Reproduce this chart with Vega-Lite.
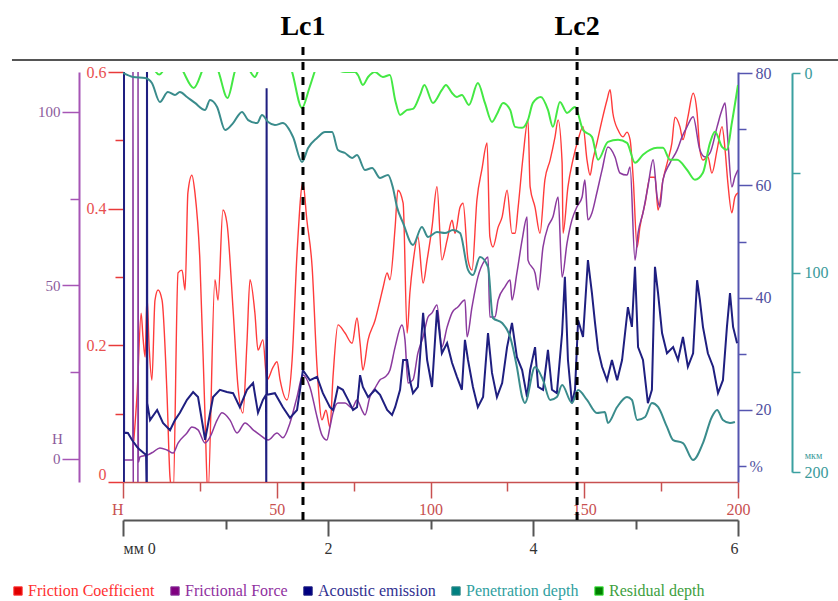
{
  "$schema": "https://vega.github.io/schema/vega-lite/v6.json",
  "autosize": {"type": "none"},
  "width": 615,
  "height": 410,
  "padding": {"left": 123, "top": 72, "right": 100, "bottom": 119},
  "background": "white",
  "config": {
    "view": {"stroke": null},
    "axis": {"grid": false, "labelFont": "Liberation Serif", "titleFont": "Liberation Serif", "labelFontSize": 16, "titleFontWeight": "normal"},
    "legend": {"labelFont": "Liberation Serif"}
  },
  "datasets": {
    "cof": [
      {"h":3.5,"v":0.06},{"h":4.6,"v":0.13},{"h":5.9,"v":0.247},{"h":6.5,"v":0.212},{"h":7.2,"v":0.183},{"h":7.8,"v":0.271},{"h":8.5,"v":0.198},{"h":9.4,"v":0.149},{"h":10.4,"v":0.266},{"h":11.4,"v":0.281},{"h":12.7,"v":0.266},{"h":14.3,"v":0.13},{"h":15.3,"v":0.006},{"h":16.3,"v":-0.02},{"h":17.9,"v":0.306},{"h":19.2,"v":0.31},{"h":20.2,"v":0.281},{"h":21.1,"v":0.423},{"h":22.4,"v":0.449},{"h":23.4,"v":0.423},{"h":25.0,"v":0.325},{"h":26.7,"v":0.091},{"h":27.6,"v":-0.02},{"h":29.9,"v":0.296},{"h":30.9,"v":0.266},{"h":32.5,"v":0.398},{"h":33.8,"v":0.379},{"h":35.8,"v":0.252},{"h":37.4,"v":0.139},{"h":39.0,"v":0.101},{"h":40.3,"v":0.203},{"h":41.3,"v":0.296},{"h":42.9,"v":0.247},{"h":43.9,"v":0.193},{"h":45.5,"v":0.208},{"h":46.8,"v":0.149},{"h":48.8,"v":0.168},{"h":50.1,"v":0.176},{"h":51.1,"v":0.149},{"h":53.3,"v":0.12},{"h":55.0,"v":0.179},{"h":56.6,"v":0.335},{"h":58.5,"v":0.438},{"h":59.8,"v":0.383},{"h":61.5,"v":0.315},{"h":63.1,"v":0.168},{"h":64.7,"v":0.091},{"h":66.0,"v":0.105},{"h":67.3,"v":0.08},{"h":68.3,"v":0.154},{"h":69.9,"v":0.23},{"h":72.2,"v":0.218},{"h":74.5,"v":0.203},{"h":76.1,"v":0.24},{"h":77.1,"v":0.203},{"h":78.0,"v":0.164},{"h":79.7,"v":0.208},{"h":82.0,"v":0.237},{"h":83.6,"v":0.266},{"h":84.6,"v":0.285},{"h":85.9,"v":0.306},{"h":86.8,"v":0.296},{"h":88.5,"v":0.373},{"h":89.4,"v":0.427},{"h":91.1,"v":0.408},{"h":92.4,"v":0.218},{"h":93.3,"v":0.277},{"h":94.3,"v":0.32},{"h":95.9,"v":0.359},{"h":97.6,"v":0.291},{"h":98.9,"v":0.325},{"h":100.5,"v":0.373},{"h":102.1,"v":0.432},{"h":103.7,"v":0.325},{"h":105.4,"v":0.354},{"h":107.0,"v":0.383},{"h":108.0,"v":0.364},{"h":109.6,"v":0.402},{"h":110.6,"v":0.408},{"h":112.2,"v":0.325},{"h":113.5,"v":0.31},{"h":115.1,"v":0.413},{"h":116.7,"v":0.457},{"h":118.4,"v":0.496},{"h":119.3,"v":0.359},{"h":120.3,"v":0.344},{"h":122.0,"v":0.373},{"h":123.3,"v":0.388},{"h":124.9,"v":0.427},{"h":126.5,"v":0.364},{"h":127.5,"v":0.364},{"h":128.5,"v":0.402},{"h":130.1,"v":0.476},{"h":131.7,"v":0.53},{"h":132.4,"v":0.432},{"h":134.0,"v":0.402},{"h":135.6,"v":0.364},{"h":137.2,"v":0.442},{"h":138.9,"v":0.471},{"h":140.5,"v":0.505},{"h":141.5,"v":0.53},{"h":142.8,"v":0.467},{"h":143.1,"v":0.364},{"h":144.7,"v":0.432},{"h":146.3,"v":0.471},{"h":148.0,"v":0.501},{"h":149.6,"v":0.52},{"h":150.9,"v":0.471},{"h":151.9,"v":0.449},{"h":152.8,"v":0.471},{"h":154.1,"v":0.496},{"h":155.8,"v":0.53},{"h":157.4,"v":0.559},{"h":158.4,"v":0.574},{"h":159.3,"v":0.54},{"h":161.0,"v":0.515},{"h":162.6,"v":0.505},{"h":163.9,"v":0.512},{"h":164.9,"v":0.501},{"h":165.9,"v":0.446},{"h":167.2,"v":0.344},{"h":168.1,"v":0.373},{"h":169.8,"v":0.408},{"h":171.4,"v":0.446},{"h":173.0,"v":0.446},{"h":174.0,"v":0.398},{"h":175.6,"v":0.442},{"h":177.2,"v":0.471},{"h":178.5,"v":0.496},{"h":179.5,"v":0.534},{"h":181.1,"v":0.52},{"h":182.1,"v":0.501},{"h":183.7,"v":0.534},{"h":185.4,"v":0.569},{"h":186.7,"v":0.54},{"h":187.6,"v":0.486},{"h":188.6,"v":0.471},{"h":190.2,"v":0.476},{"h":191.5,"v":0.452},{"h":193.2,"v":0.486},{"h":194.8,"v":0.52},{"h":195.8,"v":0.486},{"h":196.7,"v":0.438},{"h":198.0,"v":0.394},{"h":199.0,"v":0.417},{"h":200,"v":0.423}
    ],
    "force": [
      {"h":0,"v":-0.3},{"h":3.2,"v":-0.3},{"h":3.25,"v":125},{"h":3.35,"v":-10},{"h":4.85,"v":-10},{"h":4.9,"v":125},{"h":5.0,"v":-1},{"h":5.5,"v":0.6},{"h":8.1,"v":1.2},{"h":9.8,"v":2.0},{"h":12.0,"v":3.2},{"h":14.3,"v":2.6},{"h":16.3,"v":1.7},{"h":17.9,"v":4.6},{"h":20.8,"v":7.5},{"h":22.4,"v":9.2},{"h":24.4,"v":8.4},{"h":26.7,"v":4.6},{"h":28.3,"v":6.3},{"h":30.6,"v":11.2},{"h":32.2,"v":13.3},{"h":34.8,"v":11.2},{"h":37.1,"v":7.5},{"h":39.7,"v":10.4},{"h":42.3,"v":8.4},{"h":44.6,"v":6.9},{"h":47.2,"v":5.5},{"h":50.1,"v":7.5},{"h":52.0,"v":6.1},{"h":54.3,"v":10.4},{"h":56.6,"v":17.9},{"h":58.5,"v":24.2},{"h":60.8,"v":20.7},{"h":63.1,"v":12.1},{"h":64.7,"v":6.9},{"h":66.3,"v":5.5},{"h":67.3,"v":9.2},{"h":68.3,"v":13.3},{"h":69.9,"v":16.1},{"h":72.2,"v":16.1},{"h":74.5,"v":14.7},{"h":76.1,"v":17.0},{"h":77.7,"v":14.1},{"h":78.7,"v":12.7},{"h":80.3,"v":17.9},{"h":82.0,"v":20.5},{"h":83.6,"v":22.8},{"h":85.2,"v":23.6},{"h":86.8,"v":25.6},{"h":88.5,"v":32.3},{"h":90.7,"v":38.6},{"h":91.7,"v":34.3},{"h":92.7,"v":21.9},{"h":94.3,"v":22.8},{"h":95.9,"v":30.5},{"h":97.6,"v":35.2},{"h":99.2,"v":40.9},{"h":100.5,"v":42.1},{"h":102.1,"v":44.4},{"h":103.7,"v":32.3},{"h":105.4,"v":38.0},{"h":107.0,"v":42.1},{"h":108.9,"v":43.8},{"h":111.2,"v":45.8},{"h":111.9,"v":35.2},{"h":113.5,"v":43.8},{"h":115.4,"v":52.4},{"h":117.7,"v":57.3},{"h":118.7,"v":58.2},{"h":119.3,"v":40.9},{"h":121.0,"v":40.9},{"h":122.0,"v":45.8},{"h":124.2,"v":49.6},{"h":125.9,"v":51.6},{"h":126.5,"v":45.8},{"h":128.1,"v":53.6},{"h":129.8,"v":63.1},{"h":131.4,"v":69.7},{"h":131.7,"v":57.3},{"h":134.0,"v":53.6},{"h":135.0,"v":48.7},{"h":136.6,"v":61.1},{"h":138.2,"v":66.9},{"h":139.8,"v":69.7},{"h":141.5,"v":75.5},{"h":142.8,"v":52.4},{"h":144.4,"v":62.2},{"h":146.0,"v":68.9},{"h":147.6,"v":72.6},{"h":149.3,"v":75.5},{"h":150.2,"v":80.4},{"h":151.2,"v":68.9},{"h":152.5,"v":70.9},{"h":154.1,"v":76.7},{"h":155.8,"v":83.3},{"h":157.7,"v":89.9},{"h":160.0,"v":87.0},{"h":161.6,"v":82.4},{"h":163.9,"v":81.8},{"h":164.9,"v":84.1},{"h":166.5,"v":57.3},{"h":167.5,"v":65.1},{"h":169.1,"v":70.9},{"h":170.7,"v":78.4},{"h":172.4,"v":86.2},{"h":173.7,"v":75.5},{"h":174.6,"v":72.6},{"h":175.6,"v":80.4},{"h":177.9,"v":85.3},{"h":180.2,"v":89.0},{"h":181.8,"v":92.8},{"h":183.4,"v":95.7},{"h":185.4,"v":98.6},{"h":187.6,"v":89.0},{"h":189.3,"v":87.0},{"h":190.9,"v":88.2},{"h":193.2,"v":95.7},{"h":194.8,"v":100.6},{"h":195.8,"v":102.6},{"h":196.7,"v":91.9},{"h":198.0,"v":78.4},{"h":199.0,"v":81.3},{"h":200,"v":83.3}
    ],
    "ae": [
      {"h":0,"v":3},{"h":0.3,"v":3},{"h":0.32,"v":90},{"h":0.36,"v":16},{"h":1.6,"v":15.9},{"h":2.9,"v":14.7},{"h":4.6,"v":13.4},{"h":5.5,"v":12.9},{"h":7.5,"v":12.0},{"h":7.75,"v":3},{"h":7.8,"v":90},{"h":7.9,"v":21.2},{"h":8.8,"v":18.2},{"h":11.1,"v":20.0},{"h":13.0,"v":17.7},{"h":15.3,"v":16.4},{"h":16.9,"v":18.2},{"h":18.5,"v":19.5},{"h":20.8,"v":21.8},{"h":22.8,"v":23.2},{"h":24.4,"v":22.3},{"h":26.7,"v":14.7},{"h":29.3,"v":22.3},{"h":31.5,"v":23.6},{"h":33.8,"v":23.2},{"h":35.8,"v":23.0},{"h":38.0,"v":20.5},{"h":40.3,"v":23.6},{"h":42.3,"v":24.8},{"h":43.9,"v":19.5},{"h":45.5,"v":21.8},{"h":46.5,"v":22.7},{"h":46.6,"v":3},{"h":46.7,"v":77.3},{"h":46.85,"v":22.7},{"h":49.4,"v":23.0},{"h":52.0,"v":20.5},{"h":54.3,"v":18.6},{"h":56.6,"v":20.0},{"h":58.5,"v":27.1},{"h":60.8,"v":25.3},{"h":63.1,"v":25.9},{"h":65.0,"v":23.0},{"h":67.3,"v":20.5},{"h":68.3,"v":20.0},{"h":69.9,"v":24.1},{"h":71.5,"v":23.6},{"h":73.2,"v":21.8},{"h":74.8,"v":20.0},{"h":76.1,"v":20.5},{"h":77.1,"v":26.2},{"h":78.0,"v":24.1},{"h":79.7,"v":22.3},{"h":82.0,"v":23.6},{"h":83.6,"v":22.7},{"h":85.9,"v":20.0},{"h":87.5,"v":19.1},{"h":88.5,"v":20.5},{"h":90.1,"v":23.6},{"h":91.1,"v":28.9},{"h":92.4,"v":28.9},{"h":93.3,"v":25.3},{"h":94.3,"v":23.0},{"h":95.9,"v":24.1},{"h":97.6,"v":37.3},{"h":98.9,"v":28.9},{"h":100.5,"v":24.1},{"h":102.1,"v":37.8},{"h":103.7,"v":30.1},{"h":105.4,"v":31.9},{"h":107.0,"v":28.4},{"h":108.6,"v":25.9},{"h":110.2,"v":23.6},{"h":111.2,"v":32.5},{"h":112.2,"v":28.9},{"h":113.8,"v":24.1},{"h":115.4,"v":20.5},{"h":117.1,"v":22.3},{"h":118.7,"v":33.7},{"h":120.0,"v":26.6},{"h":121.6,"v":22.3},{"h":123.3,"v":24.8},{"h":124.9,"v":31.2},{"h":126.5,"v":35.5},{"h":128.1,"v":29.4},{"h":129.8,"v":27.1},{"h":131.4,"v":22.3},{"h":132.4,"v":27.1},{"h":134.0,"v":31.2},{"h":135.0,"v":24.1},{"h":136.6,"v":23.6},{"h":138.2,"v":30.7},{"h":139.5,"v":23.6},{"h":141.1,"v":23.0},{"h":142.8,"v":33.7},{"h":143.7,"v":43.7},{"h":144.7,"v":28.9},{"h":146.0,"v":21.2},{"h":147.0,"v":23.6},{"h":148.0,"v":36.0},{"h":149.6,"v":33.0},{"h":151.2,"v":46.7},{"h":152.5,"v":40.8},{"h":153.5,"v":35.5},{"h":154.5,"v":30.7},{"h":155.8,"v":27.7},{"h":157.4,"v":25.3},{"h":159.0,"v":28.9},{"h":160.7,"v":25.3},{"h":162.3,"v":28.9},{"h":164.2,"v":38.3},{"h":165.5,"v":34.8},{"h":166.5,"v":45.5},{"h":167.5,"v":31.2},{"h":169.1,"v":28.9},{"h":170.7,"v":21.2},{"h":172.0,"v":23.6},{"h":173.0,"v":45.5},{"h":174.0,"v":40.8},{"h":175.3,"v":33.7},{"h":176.9,"v":30.1},{"h":178.9,"v":31.2},{"h":180.5,"v":28.9},{"h":182.1,"v":33.0},{"h":183.7,"v":27.7},{"h":185.4,"v":30.1},{"h":186.7,"v":43.1},{"h":187.6,"v":39.6},{"h":188.6,"v":34.8},{"h":190.2,"v":30.1},{"h":191.9,"v":27.7},{"h":193.5,"v":23.0},{"h":195.1,"v":25.3},{"h":196.4,"v":34.8},{"h":197.4,"v":40.8},{"h":198.4,"v":34.8},{"h":199.7,"v":31.9}
    ],
    "pen": [
      {"h":0,"v":0},{"h":3.3,"v":2.0},{"h":7.2,"v":2.5},{"h":9.4,"v":5.0},{"h":12.0,"v":14.5},{"h":14.6,"v":9.5},{"h":16.9,"v":11.0},{"h":18.5,"v":9.5},{"h":20.8,"v":12.0},{"h":23.4,"v":15.0},{"h":26.7,"v":18.5},{"h":28.3,"v":13.5},{"h":30.6,"v":17.0},{"h":33.2,"v":28.6},{"h":35.8,"v":25.1},{"h":38.7,"v":19.5},{"h":40.7,"v":23.6},{"h":43.6,"v":25.1},{"h":45.2,"v":21.1},{"h":47.2,"v":24.6},{"h":49.4,"v":26.1},{"h":52.0,"v":25.1},{"h":55.3,"v":32.1},{"h":58.2,"v":44.6},{"h":60.2,"v":37.6},{"h":63.1,"v":32.6},{"h":65.7,"v":29.6},{"h":68.0,"v":29.6},{"h":69.9,"v":38.6},{"h":72.2,"v":40.1},{"h":74.5,"v":42.6},{"h":76.1,"v":41.1},{"h":78.7,"v":48.6},{"h":81.0,"v":47.6},{"h":83.6,"v":52.6},{"h":86.2,"v":51.1},{"h":87.8,"v":57.6},{"h":89.1,"v":67.2},{"h":91.1,"v":75.2},{"h":94.3,"v":86.2},{"h":97.2,"v":77.2},{"h":99.2,"v":82.2},{"h":102.1,"v":79.7},{"h":104.7,"v":80.2},{"h":107.3,"v":78.7},{"h":109.6,"v":80.2},{"h":112.2,"v":98.7},{"h":113.8,"v":101.3},{"h":116.1,"v":92.2},{"h":118.7,"v":97.2},{"h":120.3,"v":122.8},{"h":123.3,"v":125.3},{"h":125.9,"v":132.3},{"h":128.1,"v":147.4},{"h":129.8,"v":162.4},{"h":130.7,"v":165.4},{"h":134.0,"v":147.4},{"h":136.6,"v":153.9},{"h":138.9,"v":163.9},{"h":141.1,"v":162.4},{"h":142.8,"v":156.4},{"h":146.0,"v":165.4},{"h":148.0,"v":158.9},{"h":150.9,"v":163.9},{"h":154.1,"v":170.4},{"h":156.7,"v":169.9},{"h":157.7,"v":175.4},{"h":160.7,"v":167.4},{"h":163.9,"v":162.4},{"h":165.5,"v":163.9},{"h":167.2,"v":173.9},{"h":169.8,"v":172.4},{"h":172.0,"v":165.4},{"h":174.0,"v":167.4},{"h":176.9,"v":177.4},{"h":178.9,"v":184.0},{"h":182.1,"v":185.5},{"h":185.4,"v":194.0},{"h":188.6,"v":185.5},{"h":191.5,"v":172.4},{"h":193.2,"v":168.9},{"h":195.1,"v":173.9},{"h":197.4,"v":175.4},{"h":199.0,"v":174.9}
    ],
    "res": [
      {"h":0,"v":-15},{"h":8,"v":-12},{"h":10.5,"v":-1},{"h":11.8,"v":0.8},{"h":13,"v":-1},{"h":16,"v":-12},{"h":19.5,"v":-1},{"h":23,"v":7.5},{"h":25.7,"v":-1},{"h":28,"v":-12},{"h":31,"v":-1},{"h":34,"v":12.5},{"h":36.4,"v":-1},{"h":38.5,"v":-10},{"h":41.3,"v":-1},{"h":42.9,"v":2},{"h":43.9,"v":-1},{"h":46,"v":-10},{"h":52,"v":-12},{"h":54.9,"v":-1},{"h":58.2,"v":17.5},{"h":60.5,"v":8},{"h":62.4,"v":-1},{"h":64,"v":-8},{"h":67,"v":-6},{"h":70.0,"v":-1.5},{"h":72.2,"v":-0.5},{"h":75.4,"v":-0.5},{"h":76.4,"v":1},{"h":78.0,"v":6},{"h":79.7,"v":2},{"h":81.9,"v":-0.5},{"h":84.5,"v":2},{"h":86.8,"v":1},{"h":88.5,"v":13.5},{"h":90.1,"v":21},{"h":92.4,"v":18.5},{"h":94.3,"v":18},{"h":96.6,"v":11},{"h":98.0,"v":6},{"h":100.8,"v":15},{"h":103.7,"v":8.5},{"h":105.0,"v":6},{"h":107.0,"v":10},{"h":108.6,"v":12},{"h":110.2,"v":11},{"h":112.5,"v":16},{"h":115.4,"v":5},{"h":117.7,"v":15},{"h":120.0,"v":24.5},{"h":121.8,"v":20},{"h":123.6,"v":15},{"h":125.9,"v":18.5},{"h":127.5,"v":27},{"h":129.8,"v":27.5},{"h":131.7,"v":23.5},{"h":133.3,"v":15},{"h":135.9,"v":12},{"h":138.2,"v":18.5},{"h":139.8,"v":27},{"h":142.1,"v":14.5},{"h":144.4,"v":20},{"h":147.0,"v":17},{"h":149.6,"v":28.5},{"h":152.5,"v":32},{"h":154.5,"v":43.5},{"h":157.7,"v":34.5},{"h":161.0,"v":33.5},{"h":163.9,"v":35},{"h":166.5,"v":45},{"h":169.1,"v":41},{"h":171.4,"v":38.5},{"h":173.7,"v":37.5},{"h":175.6,"v":37.5},{"h":177.9,"v":43.5},{"h":180.2,"v":43.5},{"h":183.4,"v":48.5},{"h":186.0,"v":53.5},{"h":188.6,"v":50},{"h":190.9,"v":35},{"h":192.5,"v":29.5},{"h":194.8,"v":37},{"h":196.4,"v":38.5},{"h":198.0,"v":25},{"h":200,"v":6}
    ],
    "lc": [
      {"label": "Lc1", "mm": 1.756},
      {"label": "Lc2", "mm": 4.43}
    ]
  },
  "layer": [
    {
      "layer": [
        {
          "data": {"name": "cof"},
          "mark": {"type": "line", "clip": true, "strokeWidth": 1.4, "interpolate": "monotone"},
          "encoding": {
            "x": {"field": "h", "type": "quantitative", "scale": {"domain": [0, 200], "nice": false, "zero": false},
              "axis": {"orient": "bottom", "values": [0,25,50,75,100,125,150,175,200], "domainColor": "#c85050", "domainWidth": 1.5, "tickColor": "#c85050", "tickWidth": 1.5,
                "tickSize": {"condition": {"test": "datum.value % 50 === 0", "value": 16}, "value": 9},
                "labelExpr": "datum.value === 0 ? 'Н' : (datum.value % 50 === 0 ? datum.label : '')",
                "labelAlign": {"condition": {"test": "datum.value === 0", "value": "right"}, "value": "center"},
                "labelColor": "#c85050", "labelPadding": 3, "labelFontSize": 16, "title": null}},
            "y": {"field": "v", "type": "quantitative", "scale": {"domain": [0, 0.6], "nice": false, "zero": false},
              "axis": {"orient": "left", "offset": 0, "values": [0,0.1,0.2,0.3,0.4,0.5,0.6], "domain": false, "tickColor": "#e83a3a", "tickWidth": 1.5,
                "tickSize": {"condition": {"test": "round(datum.value*10) % 2 === 0", "value": 15}, "value": 8},
                "labelExpr": "datum.value === 0 ? '0' : (round(datum.value*10) % 2 === 0 ? format(datum.value, '.1f') : '')",
                "labelBaseline": {"condition": {"test": "datum.value === 0", "value": "bottom"}, "value": "middle"},
                "labelColor": "#e85050", "labelPadding": 2, "labelFontSize": 16, "title": null}},
            "color": {"datum": "Friction Coefficient", "type": "nominal",
              "scale": {"domain": ["Friction Coefficient", "Frictional Force", "Acoustic emission", "Penetration depth", "Residual depth"], "range": ["#ff3b3b", "#8b3a9e", "#1f1f80", "#3a8c8c", "#44e844"]},
              "legend": {"orient": "none", "legendX": -113, "legendY": 511, "direction": "horizontal", "title": null,
                "symbolType": "square", "symbolSize": 70, "labelFontSize": 16, "labelOffset": 2, "columnPadding": 12,
                "encode": {
                  "symbols": {"update": {"fill": {"signal": "datum.value === 'Friction Coefficient' ? '#e00000' : datum.value === 'Frictional Force' ? '#800080' : datum.value === 'Acoustic emission' ? '#000080' : datum.value === 'Penetration depth' ? '#008080' : '#008000'"}, "fillOpacity": {"value": 1}, "stroke": {"value": "#444444"}, "strokeWidth": {"value": 1}}},
                  "labels": {"update": {"fill": {"signal": "datum.value === 'Friction Coefficient' ? '#ff3030' : datum.value === 'Frictional Force' ? '#9030a0' : datum.value === 'Acoustic emission' ? '#303090' : datum.value === 'Penetration depth' ? '#30a0a0' : '#40a040'"}}}
                }}}
          }
        },
        {
          "data": {"name": "force"},
          "mark": {"type": "line", "clip": true, "strokeWidth": 1.5, "interpolate": "monotone"},
          "encoding": {
            "x": {"field": "h", "type": "quantitative"},
            "y": {"field": "v", "type": "quantitative", "scale": {"domain": [-6.63, 111.5], "nice": false, "zero": false},
              "axis": {"orient": "left", "offset": 44, "values": [0,25,50,75,100], "domainColor": "#a655b5", "domainWidth": 2, "tickColor": "#a655b5", "tickWidth": 1.5,
                "tickSize": {"condition": {"test": "datum.value % 50 === 0", "value": 17}, "value": 9},
                "labelExpr": "datum.value % 50 === 0 ? datum.label : ''",
                "labelColor": "#8c5c9c", "labelPadding": 2, "labelFontSize": 15,
                "title": "Н", "titleAngle": 0, "titleX": -22, "titleY": 366, "titleAlign": "center", "titleBaseline": "middle", "titleColor": "#8c5c9c", "titleFontSize": 15}},
            "color": {"datum": "Frictional Force", "type": "nominal"}
          }
        },
        {
          "data": {"name": "ae"},
          "mark": {"type": "line", "clip": true, "strokeWidth": 2},
          "encoding": {
            "x": {"field": "h", "type": "quantitative"},
            "y": {"field": "v", "type": "quantitative", "scale": {"domain": [7.18, 80.18], "nice": false, "zero": false},
              "axis": {"orient": "right", "offset": 0, "values": [10,20,30,40,50,60,70,80], "domainColor": "#5555b0", "domainWidth": 2, "tickColor": "#5555b0", "tickWidth": 1.5,
                "tickSize": {"condition": {"test": "datum.value % 20 === 0", "value": 14}, "value": 8},
                "labelExpr": "datum.value === 10 ? '%' : (datum.value % 20 === 0 ? datum.label : '')",
                "labelColor": "#5050a0", "labelPadding": 3, "labelFontSize": 16, "title": null}},
            "color": {"datum": "Acoustic emission", "type": "nominal"}
          }
        },
        {
          "data": {"name": "pen"},
          "mark": {"type": "line", "clip": true, "strokeWidth": 2, "interpolate": "monotone"},
          "encoding": {
            "x": {"field": "h", "type": "quantitative"},
            "y": {"field": "v", "type": "quantitative", "scale": {"domain": [0, 200], "range": [1, 400], "nice": false, "zero": false},
              "axis": {"orient": "right", "offset": 54, "values": [0,50,100,150,200], "domainColor": "#3aa0a0", "domainWidth": 2, "tickColor": "#3aa0a0", "tickWidth": 1.5, "tickSize": 8,
                "labelExpr": "datum.value % 100 === 0 ? datum.label : ''",
                "labelColor": "#3a9a9a", "labelPadding": 4, "labelFontSize": 16,
                "title": "мкм", "titleAngle": 0, "titleX": 21, "titleY": 383, "titleAlign": "center", "titleBaseline": "middle", "titleColor": "#3a9a9a", "titleFontSize": 10}},
            "color": {"datum": "Penetration depth", "type": "nominal"}
          }
        },
        {
          "data": {"name": "res"},
          "mark": {"type": "line", "clip": true, "strokeWidth": 2, "interpolate": "monotone"},
          "encoding": {
            "x": {"field": "h", "type": "quantitative"},
            "y": {"field": "v", "type": "quantitative", "scale": {"domain": [0, 200], "range": [1, 400], "nice": false, "zero": false}, "axis": null},
            "color": {"datum": "Residual depth", "type": "nominal"}
          }
        }
      ],
      "resolve": {"scale": {"y": "independent"}}
    },
    {
      "data": {"name": "lc"},
      "layer": [
        {
          "mark": {"type": "rule", "strokeDash": [8, 7], "strokeWidth": 3, "color": "black"},
          "encoding": {
            "x": {"field": "mm", "type": "quantitative", "scale": {"domain": [0, 6], "nice": false, "zero": false},
              "axis": {"orient": "bottom", "offset": 38, "values": [0,1,2,3,4,5,6], "domainColor": "#555555", "domainWidth": 2, "tickColor": "#555555", "tickWidth": 2,
                "tickSize": {"condition": {"test": "datum.value % 2 === 0", "value": 16}, "value": 9},
                "labelExpr": "datum.value === 0 ? 'мм 0' : (datum.value % 2 === 0 ? format(datum.value, 'd') : '')",
                "labelColor": "#333333", "labelPadding": 4, "labelFontSize": 16, "title": null}},
            "y": {"datum": 1.061, "type": "quantitative", "scale": {"domain": [0, 1], "nice": false, "zero": false}, "axis": null},
            "y2": {"datum": -0.098}
          }
        },
        {
          "mark": {"type": "text", "font": "Liberation Serif", "fontWeight": "bold", "fontSize": 28, "baseline": "middle", "align": "center", "color": "black"},
          "encoding": {
            "x": {"field": "mm", "type": "quantitative"},
            "y": {"datum": 1.11, "type": "quantitative"},
            "text": {"field": "label"}
          }
        },
        {
          "mark": {"type": "rule", "strokeWidth": 2, "color": "#555555"},
          "encoding": {
            "x": {"datum": -1.083, "type": "quantitative"},
            "x2": {"datum": 6.98},
            "y": {"datum": 1.029, "type": "quantitative"}
          }
        }
      ]
    }
  ],
  "resolve": {"scale": {"x": "independent", "y": "independent"}}
}
